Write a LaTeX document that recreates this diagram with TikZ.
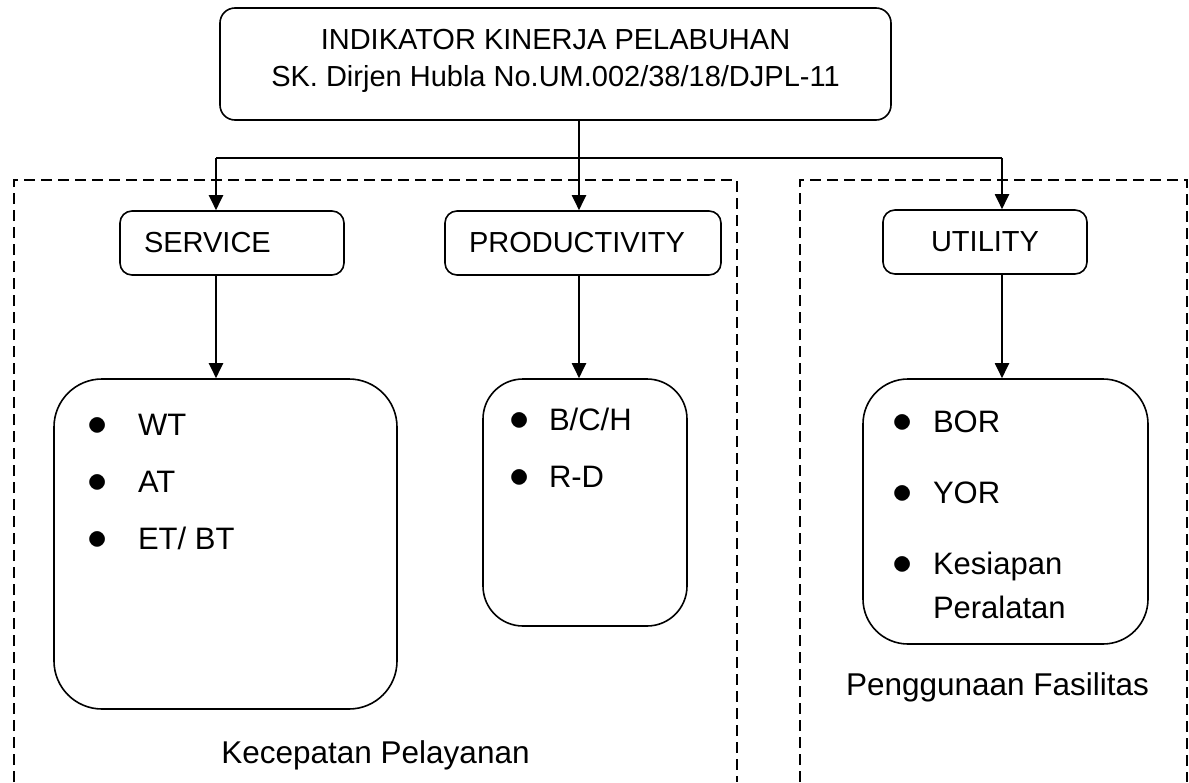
\documentclass[tikz,border=0pt]{standalone}
\usepackage{fix-cm}
\usepackage{fontspec}
\setmainfont{Liberation Sans}
\usetikzlibrary{arrows.meta}
\newlength\itmind
\newlength\itmgap
\newcommand{\itm}[1]{\par\hspace*{\itmind}\makebox[\itmgap][l]{\scalebox{1.3}{$\bullet$}}#1}
\newcommand{\boxtext}[4]{\parbox[c][#1][t]{#2}{\vspace*{#3}#4}}

\begin{document}
\begin{tikzpicture}[x=1pt,y=-1pt,line width=2pt,
  >={Triangle[length=15pt,width=14pt]},
  rbox/.style={draw,line width=1.6pt,inner sep=0pt},
  headbox/.style={draw,line width=1.6pt,rounded corners=12pt,inner ysep=0pt,inner xsep=24pt,
    minimum height=64pt,font=\fontsize{29}{35}\selectfont},
  region/.style={line width=2.4pt,dash pattern=on 11pt off 6pt},
  lbl/.style={anchor=base,font=\fontsize{31.5}{38}\selectfont}]
\useasboundingbox (0,0) rectangle (1189,782);
% dashed groups
\draw[region] (14,782) -- (14,180) -- (737,180) -- (737,782);
\draw[region] (800,782) -- (800,180) -- (1187,180) -- (1187,782);
% top box
\node[rbox,rounded corners=15pt] (kinerja) at (555.5,64) {\boxtext{112pt}{671pt}{21pt}{\centering
  \fontsize{29}{37}\selectfont INDIKATOR KINERJA PELABUHAN\\SK. Dirjen Hubla No.UM.002/38/18/DJPL-11}};
% indicators
\node[headbox,text width=176pt,align=left] (service) at (232,243) {SERVICE};
\node[headbox,text width=228pt,align=left] (productivity) at (583,243) {PRODUCTIVITY};
\node[headbox,text width=156pt,align=center] (utility) at (985,242) {UTILITY};
% lists
\node[rbox,rounded corners=48pt] (wtbox) at (225.5,544) {\boxtext{330pt}{343pt}{35.4pt}{%
  \fontsize{31}{56.7}\selectfont\setlength\itmind{33.5pt}\setlength\itmgap{50.5pt}%
  \itm{WT}\itm{AT}\itm{ET/ BT}}};
\node[rbox,rounded corners=40pt] (bchbox) at (585,502.5) {\boxtext{247pt}{204pt}{28.7pt}{%
  \fontsize{31}{57}\selectfont\setlength\itmind{26.5pt}\setlength\itmgap{39.5pt}%
  \itm{B/C/H}\itm{R-D}}};
\node[rbox,rounded corners=45pt] (borbox) at (1005.5,511.5) {\boxtext{265pt}{285pt}{31.7pt}{%
  \fontsize{31}{44}\selectfont\setlength\itmind{29.5pt}\setlength\itmgap{40.5pt}%
  \itm{BOR}\par\vspace{27pt}\itm{YOR}\par\vspace{27pt}\itm{Kesiapan}\par
  \hspace*{\dimexpr\itmind+\itmgap\relax}Peralatan}};
% group labels
\node[lbl] (pelayanan) at (375.5,763) {Kecepatan Pelayanan};
\node[lbl] (fasilitas) at (997.5,695) {Penggunaan Fasilitas};
% connectors
\coordinate (cs) at (216,158);
\coordinate (cp) at (579,158);
\coordinate (cu) at (1002,158);
\draw (cs) -- (cu);
\draw[->] (kinerja.south -| cp) -- (productivity.north -| cp);
\draw[->] (cs) -- (service.north -| cs);
\draw[->] (cu) -- (utility.north -| cu);
\draw[->] (service.south -| cs) -- (wtbox.north -| cs);
\draw[->] (productivity.south -| cp) -- (bchbox.north -| cp);
\draw[->] (utility.south -| cu) -- (borbox.north -| cu);
\end{tikzpicture}
\end{document}
